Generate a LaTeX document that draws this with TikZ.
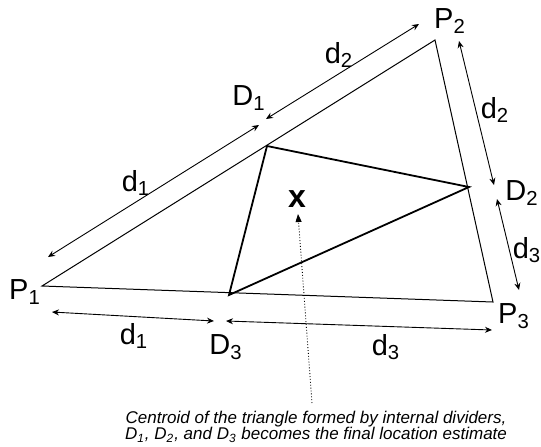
\documentclass[tikz,border=0pt]{standalone}
\usepackage{fontspec}
\setmainfont{Liberation Sans}
\usetikzlibrary{arrows,arrows.meta}
\begin{document}
\begin{tikzpicture}[x=0.5pt,y=-0.5pt]
      \useasboundingbox (0,0) rectangle (541,446);

      \tikzstyle{outer} = [draw=black, line width=0.5pt]
      \tikzstyle{inner} = [draw=black, line width=0.9pt]
      \tikzstyle{dist} = [draw=black, line width=0.45pt, {Stealth[length=3.5pt,width=3pt]}-{Stealth[length=3.5pt,width=3pt]}]
      \tikzstyle{lbl} = [draw=none, inner sep=0pt, font=\fontsize{14.5}{14.5}\selectfont]
      \tikzstyle{note} = [draw=none, inner sep=0pt, align=center,
        font=\fontsize{8.5}{8}\selectfont\itshape]

      % vertices
      \coordinate (p1) at (42,286);
      \coordinate (p2) at (435,40);
      \coordinate (p3) at (493,302);

      % internal dividers
      \coordinate (d1) at (267,146);
      \coordinate (d2) at (469,187);
      \coordinate (d3) at (229,295);

      % triangles
      \draw[outer] (p1) -- (p2) -- (p3) -- cycle;
      \draw[inner] (d1) -- (d2) -- (d3) -- cycle;

      % vertex labels
      \node[lbl] (p1Label) at (25,292) {P\textsubscript{1}};
      \node[lbl] (p2Label) at (450,21) {P\textsubscript{2}};
      \node[lbl] (p3Label) at (514,316) {P\textsubscript{3}};

      % divider labels
      \node[lbl] (d1Label) at (249,98) {D\textsubscript{1}};
      \node[lbl] (d2Label) at (522,193) {D\textsubscript{2}};
      \node[lbl] (d3Label) at (226,347) {D\textsubscript{3}};

      % distance labels
      \node[lbl] (d12Label) at (339,55) {d\textsubscript{2}};
      \node[lbl] (d11Label) at (136,183) {d\textsubscript{1}};
      \node[lbl] (d22Label) at (495,110) {d\textsubscript{2}};
      \node[lbl] (d23Label) at (527,250) {d\textsubscript{3}};
      \node[lbl] (d31Label) at (134,336) {d\textsubscript{1}};
      \node[lbl] (d33Label) at (386,347) {d\textsubscript{3}};

      % arrow ends
      \coordinate (a1s) at (48,257);
      \coordinate (a1e) at (259,125);
      \coordinate (a2s) at (266,119);
      \coordinate (a2e) at (419,24);
      \coordinate (b2s) at (459,41);
      \coordinate (b2e) at (494,185);
      \coordinate (b3s) at (497,199);
      \coordinate (b3e) at (519,290);
      \coordinate (c1s) at (52,312);
      \coordinate (c1e) at (214,321);
      \coordinate (c3s) at (226,321);
      \coordinate (c3e) at (492,330);

      % distances
      \draw[dist] (a1s) -- (a1e);
      \draw[dist] (a2s) -- (a2e);
      \draw[dist] (b2s) -- (b2e);
      \draw[dist] (b3s) -- (b3e);
      \draw[dist] (c1s) -- (c1e);
      \draw[dist] (c3s) -- (c3e);

      % centroid
      \node[draw=none, inner sep=0pt, font=\fontsize{16}{16}\selectfont\bfseries] (cent) at (297,199) {x};
      \coordinate (centTip) at (298,214);

      % note
      \node[note] (noteText) at (316,427) {Centroid of the triangle formed by internal dividers,\\
        D\textsubscript{1}, D\textsubscript{2}, and D\textsubscript{3} becomes the final location estimate};
      \coordinate (noteTop) at (312,403);
      \draw[line width=0.45pt, densely dotted, -{Triangle[length=4pt,width=3pt]}] (noteTop) -- (centTip);
\end{tikzpicture}
\end{document}
